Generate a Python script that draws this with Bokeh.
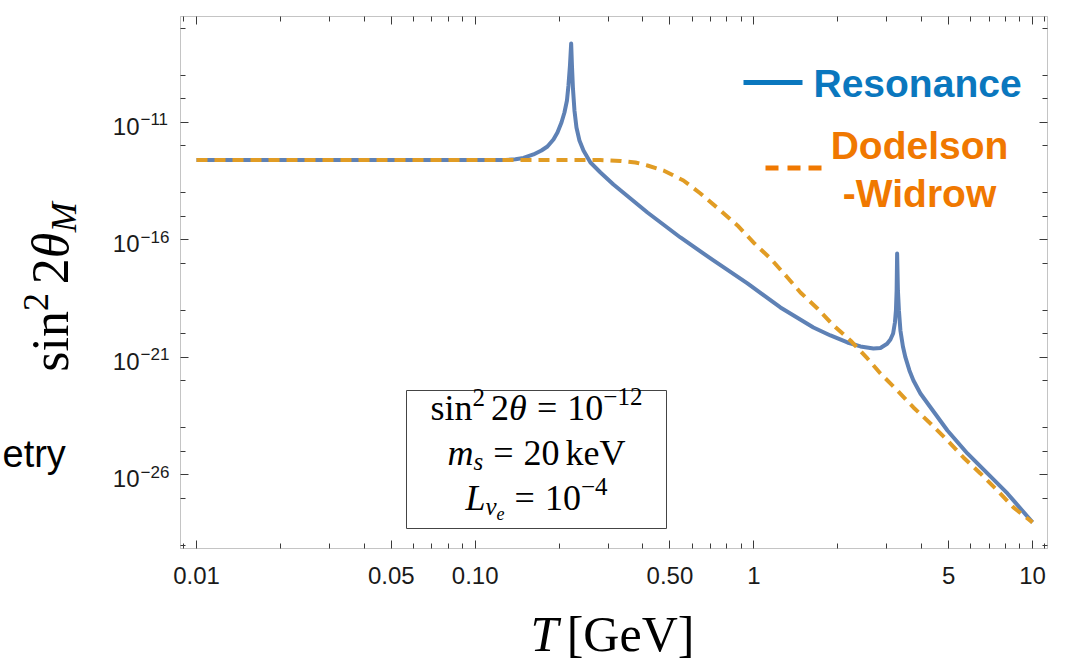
import numpy as np
from math import pi, cos, sin
from bokeh.plotting import figure
from bokeh.models import Range1d, LogAxis, FixedTicker, Label, BoxAnnotation, CustomJSTickFormatter
from bokeh.embed import file_html
from bokeh.resources import INLINE

# ---------------- data ----------------
# Resonance curve: log10 T[GeV] and log10(sin^2 2theta_M)
res_logT = [-2.0, -1.6268, -1.268, -0.8913, -0.8554, -0.8267, -0.7908, -0.7621, -0.7406, -0.7191,
            -0.7047, -0.6903, -0.6796, -0.6706, -0.6652, -0.6598, -0.6555, -0.6527, -0.6491, -0.6437,
            -0.6365, -0.6258, -0.6114, -0.5863, -0.5504, -0.5038, -0.4428, -0.3818, -0.2634, -0.145,
            -0.023, 0.0954, 0.2139, 0.2749, 0.3359, 0.3825, 0.4291, 0.4543, 0.4783, 0.4902, 0.4998,
            0.5063, 0.5099, 0.5124, 0.5142, 0.517, 0.5206, 0.526, 0.535, 0.544, 0.5583, 0.5727,
            0.5978, 0.6265, 0.6947, 0.7664, 0.8382, 0.91, 1.0]
res_log10 = [-12.60, -12.60, -12.60, -12.60, -12.566, -12.511, -12.362, -12.191, -12.021, -11.723,
             -11.426, -11.0, -10.574, -10.064, -9.426, -8.574, -7.638, -8.574, -9.553, -10.489,
             -11.213, -11.766, -12.191, -12.702, -13.128, -13.638, -14.234, -14.83, -15.894, -16.872,
             -17.851, -18.872, -19.723, -20.064, -20.362, -20.532, -20.617, -20.596, -20.417, -20.234, -19.979,
             -19.511, -19.0, -18.149, -16.574, -18.149, -19.0, -19.851, -20.532, -21.0, -21.553, -21.979,
             -22.532, -23.0, -24.106, -25.085, -25.936, -26.787, -28.02]

# Dodelson-Widrow curve
dw_logT = [-2.0, -1.268, -0.5504, -0.4787, -0.4248, -0.3818, -0.3244, -0.2526, -0.1916, -0.1198,
           -0.0588, -0.0014, 0.0596, 0.1206, 0.1672, 0.2282, 0.2856, 0.3466, 0.4076, 0.4543,
           0.5153, 0.5727, 0.6337, 0.6947, 0.7521, 0.8131, 0.8741, 0.9315, 1.0]
dw_log10 = [-12.60, -12.60, -12.60, -12.638, -12.702, -12.83, -13.043, -13.468, -14.021, -14.745,
            -15.383, -16.106, -16.787, -17.596, -18.234, -18.915, -19.638, -20.277, -21.043, -21.681,
            -22.404, -23.128, -23.809, -24.532, -25.255, -25.936, -26.66, -27.383, -28.02]

x_major = [0.01, 0.05, 0.1, 0.5, 1, 5, 10]
x_major_labels = ["0.01", "0.05", "0.10", "0.50", "1", "5", "10"]
x_minor = [0.009, 0.02, 0.03, 0.04, 0.06, 0.07, 0.08, 0.09, 0.2, 0.3, 0.4, 0.6, 0.7, 0.8, 0.9,
           2, 3, 4, 6, 7, 8, 9, 11]
y_major_exp = [-26, -21, -16, -11]
y_minor_exp = [-29, -27, -25, -24, -22, -20, -19, -17, -15, -14, -12, -10, -9, -7]

# ---------------- layout / styling constants ----------------
BLUE = "#5E81B5"
ORANGE = "#E19C24"
LEG_BLUE = "#0A77BE"
LEG_ORANGE = "#F07800"
FRAME = "#3a3a3a"
SERIF = "Liberation Serif"
SANS = "Liberation Sans"
K = 0.35            # text centre above baseline, in em

W, H = 1074, 668
FL, FR, FT, FB = 180, 1047, 16, 548          # plot box in canvas pixels
XL, XR = -2.0574, 1.0538                     # log10 bounds of plot box
YB, YT = -29.13, -6.49
dx = (XR - XL) / (FR - FL)
dy = (YT - YB) / (FB - FT)

p = figure(width=W, height=H, x_axis_type="log", y_axis_type="log",
           x_range=Range1d(10 ** (XL - FL * dx), 10 ** (XR + (W - FR) * dx)),
           y_range=Range1d(10 ** (YB - (H - FB) * dy), 10 ** (YT + FT * dy)),
           output_backend="svg", toolbar_location=None,
           min_border_left=0, min_border_right=0, min_border_top=0, min_border_bottom=0)
p.min_border = 0
p.background_fill_color = "white"
p.border_fill_color = "white"
p.outline_line_color = None
p.xgrid.visible = False
p.ygrid.visible = False

y_major = [10.0 ** e for e in y_major_exp]
y_minor = [10.0 ** e for e in y_minor_exp]
x_over = {v: s for v, s in zip(x_major, x_major_labels)}


def style_axis(ax, major, minor, loc, overrides=None):
    ax.ticker = FixedTicker(ticks=major, minor_ticks=minor)
    ax.fixed_location = loc
    ax.axis_line_color = None
    ax.major_tick_in = 8
    ax.major_tick_out = 0
    ax.minor_tick_in = 5
    ax.minor_tick_out = 0
    ax.major_tick_line_color = FRAME
    ax.minor_tick_line_color = FRAME
    ax.major_tick_line_width = 1
    ax.minor_tick_line_width = 1
    if overrides is not None:
        ax.major_label_overrides = overrides
        ax.major_label_text_font = SANS
        ax.major_label_text_font_size = "24px"
        ax.major_label_text_color = "#1a1a1a"
        ax.major_label_standoff = 18
    else:
        ax.formatter = CustomJSTickFormatter(code="return ''")
        ax.major_label_text_font_size = "0px"
        ax.major_label_standoff = 0


style_axis(p.xaxis[0], x_major, x_minor, 10 ** YB, x_over)
style_axis(p.yaxis[0], y_major, y_minor, 10 ** XL)
top_ax = LogAxis()
right_ax = LogAxis()
style_axis(top_ax, x_major, x_minor, 10 ** YT)
style_axis(right_ax, y_major, y_minor, 10 ** XR)
p.add_layout(top_ax, "above")
p.add_layout(right_ax, "right")

# plot frame
p.add_layout(BoxAnnotation(left=10 ** XL, right=10 ** XR, bottom=10 ** YB, top=10 ** YT,
                           fill_alpha=0.0, line_color=FRAME, line_width=1))

# ---------------- curves ----------------
p.line(10.0 ** np.array(res_logT), 10.0 ** np.array(res_log10), line_color=BLUE, line_width=4,
       line_join="round")
p.line(10.0 ** np.array(dw_logT), 10.0 ** np.array(dw_log10), line_color=ORANGE, line_width=4,
       line_dash="11 7")

# ---------------- y tick labels 10^n ----------------
for e in y_major_exp:
    p.add_layout(Label(x=139, y=10.0 ** e, x_units="screen", y_units="data", text="10",
                       text_font=SANS, text_font_size="24px", text_color="#1a1a1a",
                       text_align="right", text_baseline="alphabetic", y_offset=-4))
    p.add_layout(Label(x=140, y=10.0 ** e, x_units="screen", y_units="data", text="−" + str(-e),
                       text_font=SANS, text_font_size="17px", text_color="#1a1a1a",
                       text_align="left", text_baseline="alphabetic", y_offset=3))

# ---------------- text helpers ----------------
W_REG = {"s": .389, "i": .278, "n": .5, "=": .564, "−": .564, "k": .5, "e": .444, "V": .722,
         "[": .333, "]": .333, "G": .722, " ": .25}
W_IT = {"θ": .5, "m": .722, "s": .389, "L": .556, "ν": .444, "e": .444, "M": .833, "T": .556}


def tw(t, size, italic):
    table = W_IT if italic else W_REG
    return sum(table.get(ch, 0.5) for ch in t) * size


def rich(pieces, cx, cy, angle=0.0, color="black", font=SERIF):
    """pieces: (text, size, italic, rise, gap_before); cx, cy: canvas centre of the baseline."""
    total = sum(g + tw(t, s, it) for t, s, it, r, g in pieces)
    ddx, ddy = cos(angle), sin(angle)
    ux, uy = -sin(angle), cos(angle)
    sx0 = cx - ddx * total / 2
    sy0 = (H - cy) - ddy * total / 2
    cur = 0.0
    for t, s, it, r, g in pieces:
        cur += g
        rr = r + K * s
        p.add_layout(Label(x=sx0 + ddx * cur + ux * rr, y=sy0 + ddy * cur + uy * rr,
                           x_units="screen", y_units="screen", text=t,
                           text_font=font, text_font_size=f"{s}px",
                           text_font_style="italic" if it else "normal",
                           text_color=color, angle=angle,
                           text_align="left", text_baseline="alphabetic"))
        cur += tw(t, s, it)


def label(text, cx, cy, size, color, style="normal", align="left", font=SANS):
    p.add_layout(Label(x=cx, y=H - cy + K * size, x_units="screen", y_units="screen", text=text,
                       text_font=font, text_font_size=f"{size}px", text_font_style=style,
                       text_color=color, text_align=align, text_baseline="alphabetic"))


def box(l, t, r, b, fill=None, line=None):
    p.add_layout(BoxAnnotation(left=l, right=r, top=H - t, bottom=H - b,
                               left_units="screen", right_units="screen",
                               top_units="screen", bottom_units="screen",
                               fill_color=fill if fill else "white",
                               fill_alpha=1.0 if fill else 0.0,
                               line_color=line if line else "white", line_width=1,
                               line_alpha=1.0 if line else 0.0))


# axis titles
rich([("sin", 52, False, 0, 0), ("2", 36, False, 20, 0), ("2", 52, False, 0, 8.7),
      ("θ", 52, True, 0, 0), ("M", 36, True, -8, 0)], 68, 286.5, angle=pi / 2)
rich([("T", 50, True, 0, 0), ("[GeV]", 50, False, 0, 8.3)], 612, 651)

# parameter box
box(406, 390, 666, 528, line="#444444")
S, s2 = 36, 25
rich([("sin", S, False, 0, 0), ("2", s2, False, 14, 0), ("2", S, False, 0, 0.167 * S),
      ("θ", S, True, 0, 0), ("=", S, False, 0, 0.278 * S), ("10", S, False, 0, 0.278 * S),
      ("−12", s2, False, 15, 0)], 536, 420)
rich([("m", S, True, 0, 0), ("s", s2, True, -5, 0), ("=", S, False, 0, 0.278 * S),
      ("20", S, False, 0, 0.278 * S), ("keV", S, False, 0, 0.167 * S)], 536, 465)
rich([("L", S, True, 0, 0), ("ν", s2, True, -5, 0), ("e", 18, True, -9, 0),
      ("=", S, False, 0, 0.278 * S), ("10", S, False, 0, 0.278 * S),
      ("−4", s2, False, 15, 0)], 536, 510)

# legend
box(743, 79.5, 802, 84.5, fill=LEG_BLUE)
label("Resonance", 813, 97, 39, LEG_BLUE, style="bold")
for a, b_ in [(765, 778), (787, 800), (808, 821)]:
    box(a, 165, b_, 170, fill=LEG_ORANGE)
label("Dodelson", 919, 159, 39, LEG_ORANGE, style="bold", align="center")
label("-Widrow", 919, 207, 39, LEG_ORANGE, style="bold", align="center")

# slide text at the left edge
label("etry", 2, 467, 38, "black")

open("out.html", "w").write(file_html(p, INLINE))
